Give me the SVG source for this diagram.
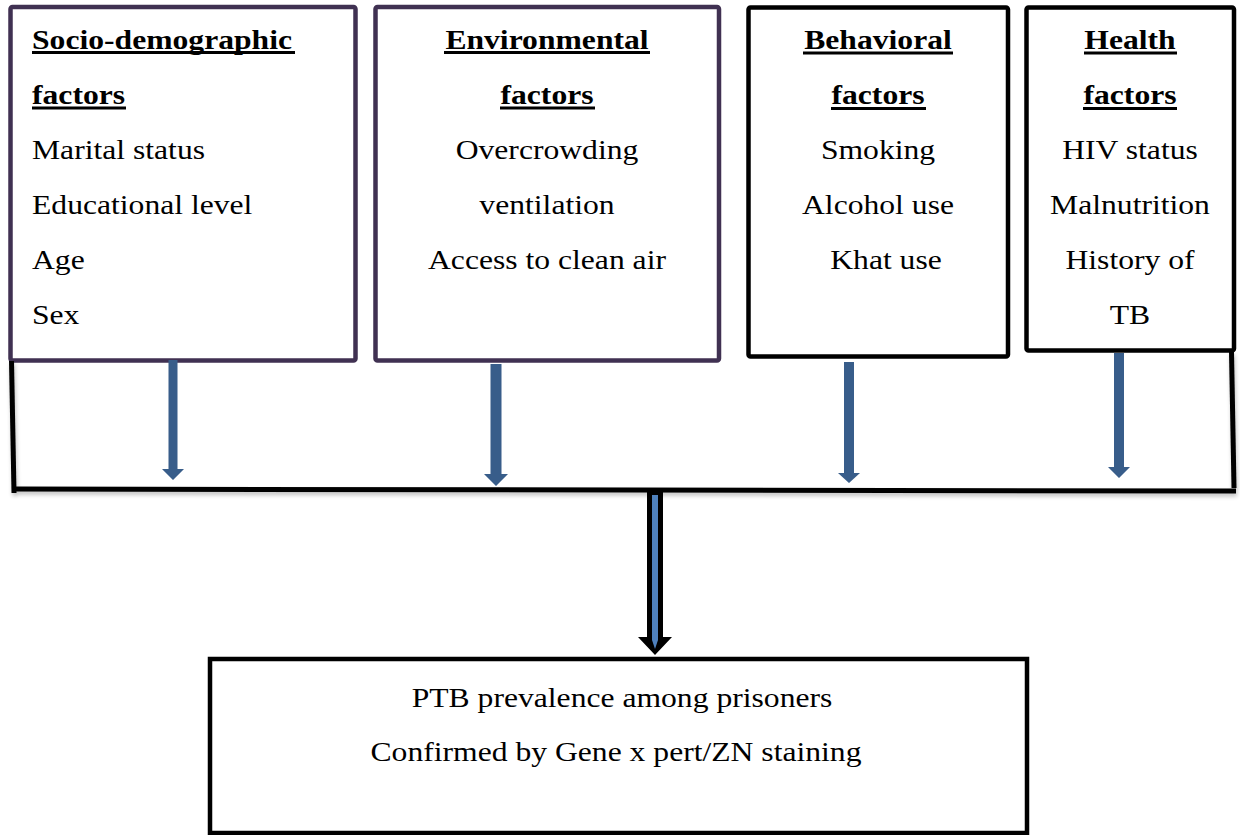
<svg xmlns="http://www.w3.org/2000/svg" width="1240" height="835" viewBox="0 0 1240 835">
<defs>
<style>
.t{font-family:"Liberation Serif","Times New Roman",serif;font-size:28px;fill:#000;}
.b{font-weight:bold;}
.box-p{fill:#fff;stroke:#403152;stroke-width:4.5;}
.box-k{fill:#fff;stroke:#000;stroke-width:4.5;}
.ul{stroke:#000;stroke-width:3;}
.br{stroke:#000;stroke-width:5;fill:none;stroke-linecap:butt;}
.ar{fill:#385d8a;}
</style>
<filter id="sh" x="-5%" y="-50%" width="110%" height="300%">
<feGaussianBlur in="SourceAlpha" stdDeviation="2"/>
<feOffset dx="1" dy="3" result="o"/>
<feComponentTransfer><feFuncA type="linear" slope="0.25"/></feComponentTransfer>
<feMerge><feMergeNode/><feMergeNode in="SourceGraphic"/></feMerge>
</filter>
</defs>
<rect width="1240" height="835" fill="#fff"/>

<g id="node-socio">
<rect class="box-p" x="10.5" y="7" width="345" height="353.5" rx="2"/>
<g transform="translate(32,0) scale(1.13,1)">
<text class="t b" x="0" y="49">Socio-demographic</text>
<text class="t b" x="0" y="104">factors</text>
<text class="t" x="0" y="159">Marital status</text>
<text class="t" x="0" y="214">Educational level</text>
<text class="t" x="0" y="269">Age</text>
<text class="t" x="0" y="324">Sex</text>
</g>
<line class="ul" x1="32" y1="52.5" x2="295" y2="52.5"/>
<line class="ul" x1="32" y1="108" x2="126" y2="108"/>
</g>

<g id="node-environmental">
<rect class="box-p" x="375.5" y="7" width="343.5" height="353.5" rx="2"/>
<g transform="translate(547,0) scale(1.13,1)" text-anchor="middle">
<text class="t b" x="0" y="49">Environmental</text>
<text class="t b" x="0" y="104">factors</text>
<text class="t" x="0" y="159">Overcrowding</text>
<text class="t" x="0" y="214">ventilation</text>
<text class="t" x="0" y="269">Access to clean air</text>
</g>
<line class="ul" x1="444" y1="52.5" x2="650" y2="52.5"/>
<line class="ul" x1="500" y1="108" x2="595" y2="108"/>
</g>

<g id="node-behavioral">
<rect class="box-k" x="748.5" y="7.5" width="259.5" height="349" rx="2"/>
<g transform="translate(878,0) scale(1.13,1)" text-anchor="middle">
<text class="t b" x="0" y="49">Behavioral</text>
<text class="t b" x="0" y="104">factors</text>
<text class="t" x="0" y="159">Smoking</text>
<text class="t" x="0" y="214">Alcohol use</text>
</g>
<g transform="translate(886,0) scale(1.13,1)" text-anchor="middle">
<text class="t" x="0" y="269">Khat use</text>
</g>
<line class="ul" x1="803" y1="53" x2="953" y2="53"/>
<line class="ul" x1="831" y1="108.5" x2="926" y2="108.5"/>
</g>

<g id="node-health">
<rect class="box-k" x="1026.5" y="7.5" width="207.5" height="343" rx="2"/>
<g transform="translate(1130,0) scale(1.13,1)" text-anchor="middle">
<text class="t b" x="0" y="49">Health</text>
<text class="t b" x="0" y="104">factors</text>
<text class="t" x="0" y="159">HIV status</text>
<text class="t" x="0" y="214">Malnutrition</text>
<text class="t" x="0" y="269">History of</text>
<text class="t" x="0" y="324">TB</text>
</g>
<line class="ul" x1="1084" y1="53" x2="1177" y2="53"/>
<line class="ul" x1="1083" y1="108.5" x2="1177" y2="108.5"/>
</g>

<g id="node-outcome">
<rect class="box-k" x="210" y="659" width="817" height="174" stroke-width="5"/>
<g transform="translate(622,0) scale(1.13,1)" text-anchor="middle">
<text class="t" x="0" y="707">PTB prevalence among prisoners</text>
</g>
<g transform="translate(616,0) scale(1.13,1)" text-anchor="middle">
<text class="t" x="0" y="761">Confirmed by Gene x pert/ZN staining</text>
</g>
</g>

<g id="connectors">
<g filter="url(#sh)">
<path class="br" d="M11.5,361 L14,493"/>
<path class="br" d="M15,489 L1236,491"/>
<path class="br" d="M1231.5,352 L1234,488"/>
</g>
<polygon class="ar" points="168.5,360 177.5,360 177.5,469 184,469 173,480 162,469 168.5,469"/>
<polygon class="ar" points="490.5,364 501.5,364 501.5,474 508,474 496,486 484,474 490.5,474"/>
<polygon class="ar" points="844,362 854,362 854,473 860,473 849,483 838,473 844,473"/>
<polygon class="ar" points="1114,353 1124,353 1124,467 1130,467 1119,478 1108,467 1114,467"/>
<polygon fill="#000" points="647,492 663,492 663,637 672,637 655,655 638,637 647,637"/>
<polygon fill="#4f81bd" points="652,495 658,495 658,640 655,649 652,640"/>
</g>
</svg>
